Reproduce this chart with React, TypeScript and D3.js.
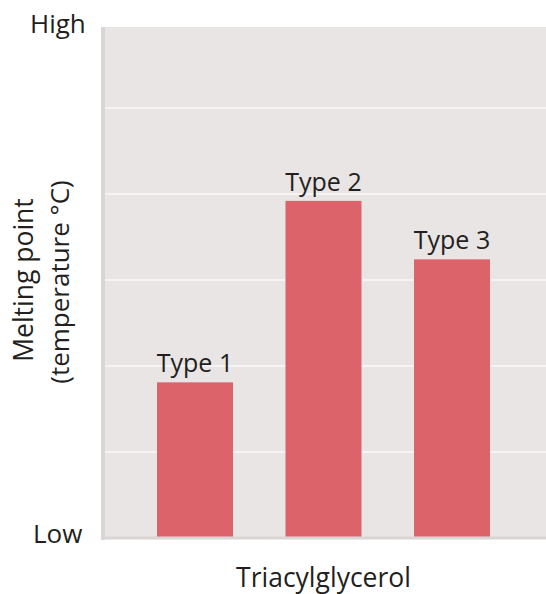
import React from "react";
import * as d3 from "d3";

const categories = ["Type 1", "Type 2", "Type 3"];
const meltingValues = [1.81, 3.92, 3.24];
const gridTicks = [1, 2, 3, 4, 5];
const yEndLabels = ["Low", "High"];
const xAxisTitle = "Triacylglycerol";
const yAxisTitle = ["Melting point", "(temperature °C)"];

const W = 546;
const H = 594;
const FONT = "'Open Sans', sans-serif";

export default function App() {
  const y = d3.scaleLinear().domain([0, 6]).range([538, 22]);
  const x = d3
    .scaleBand<string>()
    .domain(categories)
    .range([130.75, 516.25])
    .paddingInner(0.4086)
    .paddingOuter(0.2043);

  const plotLeft = 101;
  const plotTop = 27;
  const plotBottom = y(0);

  return (
    <svg
      width={W}
      height={H}
      style={{ position: "absolute", left: 0, top: 0, background: "#fff" }}
    >
      <rect x={plotLeft} y={plotTop} width={W - plotLeft} height={plotBottom - plotTop} fill="#e8e5e4" />
      <rect x={plotLeft} y={plotTop} width={4} height={plotBottom - plotTop + 2} fill="#d9d5d4" />
      <rect x={plotLeft} y={plotBottom - 1.5} width={W - plotLeft} height={3} fill="#d9d5d4" />
      {gridTicks.map((t) => (
        <line
          key={t}
          x1={plotLeft + 4}
          x2={W}
          y1={y(t)}
          y2={y(t)}
          stroke="#f5f3f3"
          strokeWidth={2}
        />
      ))}
      {categories.map((c, i) => (
        <g key={c}>
          <rect
            x={x(c)}
            y={y(meltingValues[i])}
            width={x.bandwidth()}
            height={plotBottom - 1.5 - y(meltingValues[i])}
            fill="#dd636b"
          />
          <text
            x={(x(c) as number) + x.bandwidth() / 2}
            y={y(meltingValues[i]) - 10}
            textAnchor="middle"
            fontFamily={FONT}
            fontSize={25}
            fill="#231f20"
          >
            {c}
          </text>
        </g>
      ))}
      <text x={30} y={y(6) + 11} fontFamily={FONT} fontSize={26} fill="#231f20">
        {yEndLabels[1]}
      </text>
      <text x={33} y={y(0) + 5} fontFamily={FONT} fontSize={26} fill="#231f20">
        {yEndLabels[0]}
      </text>
      <text
        x={323.5}
        y={587}
        textAnchor="middle"
        fontFamily={FONT}
        fontSize={26.5}
        fill="#231f20"
      >
        {xAxisTitle}
      </text>
      <g transform="translate(33,280) rotate(-90)">
        <text x={0} y={0} textAnchor="middle" fontFamily={FONT} fontSize={26.5} fill="#231f20">
          {yAxisTitle[0]}
        </text>
        <text x={-2} y={36} textAnchor="middle" fontFamily={FONT} fontSize={26} fill="#231f20">
          {yAxisTitle[1]}
        </text>
      </g>
    </svg>
  );
}
